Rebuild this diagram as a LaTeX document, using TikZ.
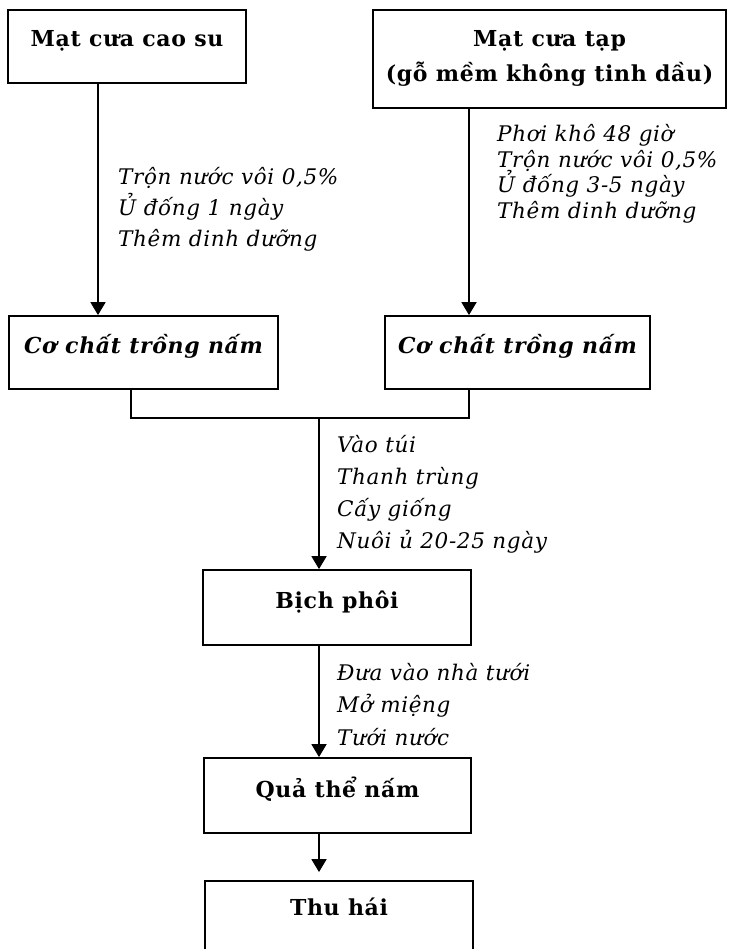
\documentclass[tikz,border=0pt]{standalone}
\usepackage{fontspec}
\setmainfont{DejaVu Serif}
\newfontfamily\widefont[LetterSpace=3]{DejaVu Serif}
\usetikzlibrary{arrows.meta}
\newcommand{\tightlines}{\lineskiplimit=-20pt\relax}
\begin{document}
\begin{tikzpicture}[x=1pt,y=-1pt,
  box/.style={draw, line width=1.8pt, inner sep=0pt, anchor=base},
  hdr/.style={font={\widefont\bfseries\fontsize{22}{#1}\selectfont\tightlines}},
  hdr/.default=35,
  sub/.style={font=\widefont\bfseries\itshape\fontsize{22}{26}\selectfont},
  note/.style={font={\widefont\itshape\fontsize{21.5}{#1}\selectfont\tightlines},
    align=left, anchor=base west, inner sep=0pt},
  flow/.style={line width=1.8pt, -{Triangle[width=15pt,length=13pt]}},
  link/.style={line width=1.8pt}]
\useasboundingbox (0,0) rectangle (731,949);
\clip (0,0) rectangle (731,949);

% source materials
\node[box, hdr, minimum width=238pt, text height=37pt, text depth=36pt]
  (b1) at (127,47) {Mạt cưa cao su};
\node[box, hdr=35, align=center, minimum width=353pt, text height=72pt, text depth=26pt]
  (b2) at (549.5,82) {Mạt cưa tạp\\(gỗ mềm không tinh dầu)};

% substrates
\node[box, sub, minimum width=269pt, text height=37pt, text depth=36pt]
  (b3) at (143.5,353) {Cơ chất trồng nấm};
\node[box, sub, minimum width=265pt, text height=37pt, text depth=36pt]
  (b4) at (517.5,353) {Cơ chất trồng nấm};

% bags, fruiting bodies, harvest
\node[box, hdr, minimum width=268pt, text height=38pt, text depth=37pt]
  (b5) at (337,608) {Bịch phôi};
\node[box, hdr, minimum width=267pt, text height=39pt, text depth=36pt]
  (b6) at (337.5,797) {Quả thể nấm};
\node[box, hdr, minimum width=268pt, text height=34pt, text depth=60pt]
  (b7) at (339,915) {Thu hái};

% connector columns
\coordinate (xl) at (98,0);
\coordinate (xr) at (469,0);
\coordinate (ml) at (131,0);
\coordinate (j) at (319,418);

\draw[flow] (b1.south -| xl) -- (b3.north -| xl);
\draw[flow] (b2.south -| xr) -- (b4.north -| xr);
\draw[link] (b3.south -| ml) |- (j) -| (b4.south -| xr);
\draw[flow] (j) -- (b5.north -| j);
\draw[flow] (b5.south -| j) -- (b6.north -| j);
\draw[flow, shorten >=8pt] (b6.south -| j) -- (b7.north -| j);

% process notes (anchored at the baseline of the last line)
\node[note=31] (n1) at (118,247)
  {Trộn nước vôi 0,5\%\\Ủ đống 1 ngày\\Thêm dinh dưỡng};
\node[note=25.5] (n2) at (497,218.5)
  {Phơi khô 48 giờ\\Trộn nước vôi 0,5\%\\Ủ đống 3-5 ngày\\Thêm dinh dưỡng};
\node[note=32] (n3) at (337,548)
  {Vào túi\\Thanh trùng\\Cấy giống\\Nuôi ủ 20-25 ngày};
\node[note=32.5] (n4) at (337,745)
  {Đưa vào nhà tưới\\Mở miệng\\Tưới nước};
\end{tikzpicture}
\end{document}
